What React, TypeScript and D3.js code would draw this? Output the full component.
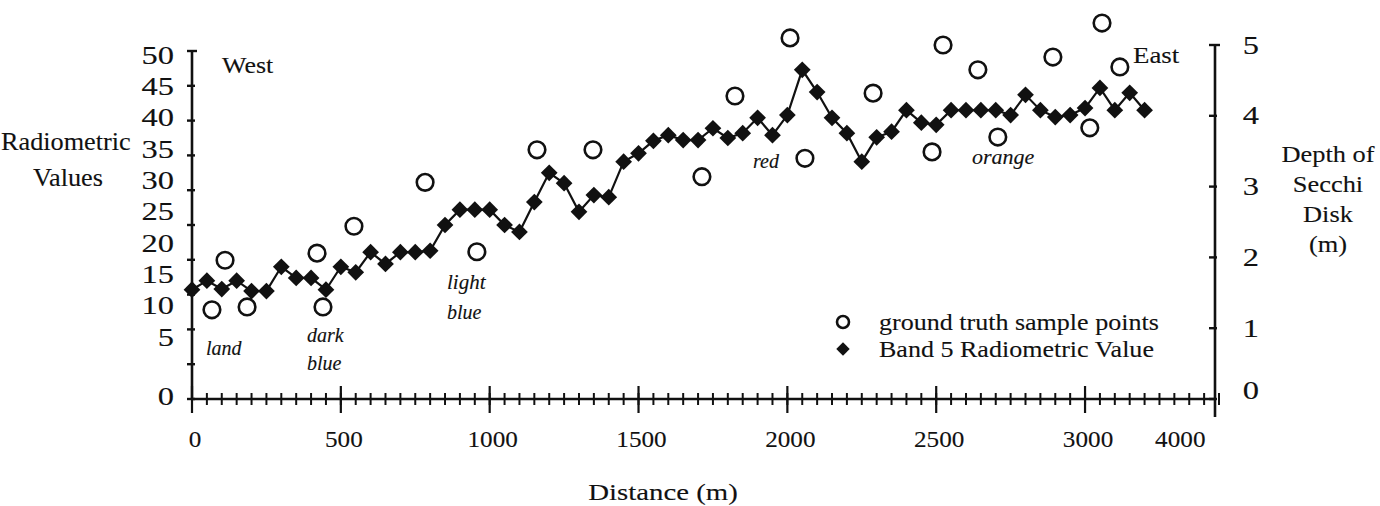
import React from "react";
import * as d3 from "d3";

// ---- data ----
const bandDistance = [0,50,100,150,200,250,300,350,400,450,500,550,600,650,700,750,800,850,900,950,1000,1050,1100,1150,1200,1250,1300,1350,1400,1450,1500,1550,1600,1650,1700,1750,1800,1850,1900,1950,2000,2050,2100,2150,2200,2250,2300,2350,2400,2450,2500,2550,2600,2650,2700,2750,2800,2850,2900,2950,3000,3050,3100,3150,3200];
const bandValue = [15.7,17.0,15.8,17.0,15.5,15.5,19.0,17.4,17.4,15.7,19.0,18.2,21.1,19.4,21.1,21.1,21.3,25.0,27.2,27.2,27.2,25.0,24.0,28.3,32.5,31.0,26.9,29.3,29.0,34.1,35.3,37.1,37.9,37.2,37.2,38.9,37.5,38.2,40.4,37.9,40.8,47.3,44.1,40.4,38.2,34.1,37.6,38.4,41.5,39.7,39.4,41.5,41.5,41.5,41.5,40.8,43.7,41.5,40.5,40.8,41.8,44.7,41.5,44.0,41.5];
const truthDistance = [67,111,185,420,440,544,783,957,1159,1347,1713,1824,2009,2059,2288,2486,2523,2640,2707,2892,3016,3057,3117];
const truthDepth = [1.26,1.96,1.30,2.06,1.30,2.44,3.06,2.08,3.52,3.52,3.14,4.28,5.10,3.40,4.32,3.49,5.0,4.65,3.70,4.83,3.83,5.31,4.69];
const xTickLabels = ["0","500","1000","1500","2000","2500","3000","4000"];
const xMajorTicks = [0,500,1000,1500,2000,2500,3000];
const leftTickLabels = [50,45,40,35,30,25,20,15,10,5];
const rightTickLabels = [0,1,2,3,4,5];

const FONT = "'Liberation Serif', 'Times New Roman', serif";
const INK = "#111";

type TP = { x: number; y: number; size?: number; sx?: number; anchor?: string; italic?: boolean; children: React.ReactNode };
function T({ x, y, size = 24, sx = 1.1, anchor = "start", italic = false, children }: TP) {
  return (
    <text transform={`translate(${x},${y}) scale(${sx},1)`} textAnchor={anchor as any} fontSize={size}
      fontStyle={italic ? "italic" : "normal"} fill={INK} stroke={INK} strokeWidth={0.12}>
      {children}
    </text>
  );
}

export default function App() {
  const x = d3.scaleLinear().domain([0, 3450]).range([192, 1219]);
  const yL = d3.scaleLinear().domain([0, 50]).range([399, 51]);
  const yLabel = d3.scaleLinear().domain([5, 50]).range([337, 55]);
  const yR = d3.scaleLinear().domain([0, 5]).range([399, 45]);
  const rightX = 1215;

  const minorTicks = d3.range(0, 3451, 50);
  const leftTicks = d3.range(0, 51, 5);

  const line = d3.line<number>()
    .x((_, i) => x(bandDistance[i]))
    .y((v) => yL(v));

  const sq = d3.symbol(d3.symbolSquare, 140)() || "";
  const sqLegend = d3.symbol(d3.symbolSquare, 90)() || "";

  return (
    <svg width={1380} height={506} style={{ position: "absolute", left: 0, top: 0, background: "#fff" }}
      fontFamily={FONT}>
      <rect width={1380} height={506} fill="#fff" />
      {/* x axis */}
      <line x1={x(0)} x2={rightX} y1={yL(0)} y2={yL(0)} stroke={INK} strokeWidth={2.6} />
      {minorTicks.map((t) => (
        <line key={"m" + t} x1={x(t)} x2={x(t)} y1={yL(0) - 6} y2={yL(0) + 6} stroke={INK} strokeWidth={2} />
      ))}
      {xMajorTicks.map((t) => (
        <line key={"M" + t} x1={x(t)} x2={x(t)} y1={yL(0) - 13} y2={yL(0) + 14} stroke={INK} strokeWidth={2.2} />
      ))}
      {xTickLabels.map((lab, i) => (
        <T key={"xl" + lab} x={i < xMajorTicks.length ? x(xMajorTicks[i]) + 3 : x(3320)} y={447}
          anchor="middle" size={24} sx={1.05}>{lab}</T>
      ))}
      <T x={663} y={500} anchor="middle" size={24} sx={1.2}>Distance (m)</T>

      {/* left axis */}
      <line x1={x(0)} x2={x(0)} y1={yL(50)} y2={yL(0)} stroke={INK} strokeWidth={2.6} />
      {leftTicks.map((t) => (
        <line key={"lt" + t} x1={x(0) - 5} x2={x(0) + (t === 50 ? 5 : 3)} y1={yL(t)} y2={yL(t)} stroke={INK} strokeWidth={2.4} />
      ))}
      {leftTickLabels.map((t) => (
        <T key={"ll" + t} x={174} y={yLabel(t) + 8.5} anchor="end" size={25} sx={1.3}>{t}</T>
      ))}
      <T x={174} y={yL(0) + 6} anchor="end" size={25} sx={1.3}>0</T>
      <T x={1} y={150} anchor="start" size={25} sx={1.05}>Radiometric</T>
      <T x={68} y={186} anchor="middle" size={25} sx={1.05}>Values</T>

      {/* right axis */}
      <line x1={rightX} x2={rightX} y1={yR(5)} y2={yR(0) + 18} stroke={INK} strokeWidth={2.6} />
      {rightTickLabels.map((t) => (
        <line key={"rt" + t} x1={rightX - 6} x2={rightX + (t === 5 ? 5 : 2)} y1={yR(t)} y2={yR(t)} stroke={INK} strokeWidth={2.4} />
      ))}
      {rightTickLabels.map((t) => (
        <T key={"rl" + t} x={1251} y={yR(t) + 8.5 - (t === 0 ? 9 : 0)} anchor="middle" size={25} sx={1.3}>{t}</T>
      ))}
      {["Depth of", "Secchi", "Disk", "(m)"].map((s, i) => (
        <T key={s} x={1328} y={162 + i * 30} anchor="middle" size={24} sx={1.1}>{s}</T>
      ))}

      {/* annotations */}
      <T x={222} y={73} size={24} sx={1.08}>West</T>
      <T x={1133} y={63} size={24} sx={1.12}>East</T>
      <T x={206} y={355} size={20} sx={1.0} italic>land</T>
      <T x={307} y={342} size={20} sx={1.0} italic>dark</T>
      <T x={307} y={370} size={20} sx={1.0} italic>blue</T>
      <T x={447} y={289} size={20} sx={1.05} italic>light</T>
      <T x={447} y={319} size={20} sx={1.0} italic>blue</T>
      <T x={753} y={168} size={20} sx={1.0} italic>red</T>
      <T x={972} y={164} size={20} sx={1.1} italic>orange</T>

      {/* band 5 line + diamonds */}
      <path d={line(bandValue) || ""} fill="none" stroke={INK} strokeWidth={2.2} />
      {bandValue.map((v, i) => (
        <path key={"d" + i} d={sq} transform={`translate(${x(bandDistance[i])},${yL(v)}) rotate(45)`} fill={INK} />
      ))}

      {/* ground truth circles */}
      {truthDepth.map((v, i) => (
        <circle key={"c" + i} cx={x(truthDistance[i])} cy={yR(v)} r={8.3} fill="none" stroke={INK} strokeWidth={2.6} />
      ))}

      {/* legend */}
      <circle cx={843} cy={322} r={6} fill="none" stroke={INK} strokeWidth={2.6} />
      <T x={879} y={330} size={24} sx={1.085}>ground truth sample points</T>
      <path d={sqLegend} transform={`translate(843,349) rotate(45)`} fill={INK} />
      <T x={879} y={357} size={24} sx={1.085}>Band 5 Radiometric Value</T>
    </svg>
  );
}
